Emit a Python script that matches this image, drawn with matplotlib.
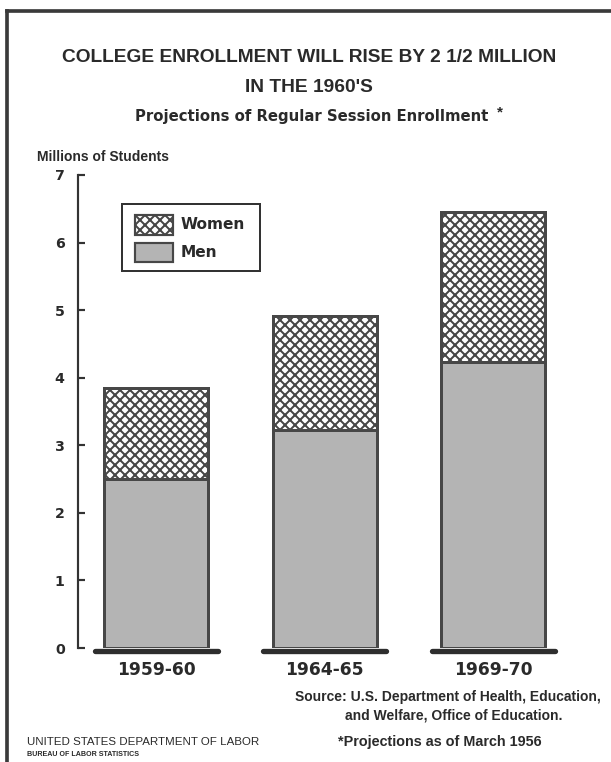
import matplotlib

matplotlib.use("Agg")
import matplotlib.pyplot as plt
from matplotlib.lines import Line2D
from matplotlib.patches import Rectangle

# enrollment, millions of students
years = ["1959-60", "1964-65", "1969-70"]
men = [2.5, 3.22, 4.23]
women = [1.35, 1.7, 2.22]
y_ticks = [0, 1, 2, 3, 4, 5, 6, 7]

W, H, DPI = 611, 762, 120
EDGE = "#474747"
INK = "#2a2a2a"
MEN_FILL = "#b4b4b4"
HATCH = "xxxx"
FONT = "Liberation Sans"
WIDE = "DejaVu Sans"

plt.rcParams["font.family"] = [FONT, "DejaVu Sans"]
plt.rcParams["hatch.linewidth"] = 1.2
plt.rcParams["hatch.color"] = EDGE


def fx(px):
    return px / W


def fy(py):
    return 1 - py / H


fig = plt.figure(figsize=(W / DPI, H / DPI), dpi=DPI)
fig.patch.set_facecolor("white")

# page frame (left and top rules)
fig.add_artist(Line2D([fx(7), fx(7)], [fy(11), 0], color="#3a3a3a", lw=2.2))
fig.add_artist(Line2D([fx(7), 1], [fy(11), fy(11)], color="#3a3a3a", lw=2.2))

# axes: y=0 at 648px, y=7 at 175px; spine at 78px
spacing = 168.5
c0 = 156
x_left = (78 - c0) / spacing
x_right = (605 - c0) / spacing
ax = fig.add_axes([fx(78), fy(648), fx(605) - fx(78), fy(175) - fy(648)])
ax.set_xlim(x_left, x_right)
ax.set_ylim(0, 7)

xs = list(range(len(years)))
bw = 104 / spacing
ax.bar(xs, men, width=bw, color=MEN_FILL, edgecolor=EDGE, linewidth=1.8, zorder=2)
ax.bar(xs, women, bottom=men, width=bw, color="white", edgecolor=EDGE,
       hatch=HATCH, linewidth=1.8, zorder=2)

# heavy base rule under each bar
half = 61.5 / spacing
for x in xs:
    ax.plot([x - half, x + half], [-0.04, -0.04], color="#2e2e2e", lw=3.2,
            solid_capstyle="round", clip_on=False, zorder=3)

for s in ["top", "right", "bottom"]:
    ax.spines[s].set_visible(False)
ax.spines["left"].set_color("#333333")
ax.spines["left"].set_linewidth(1.3)
ax.set_yticks(y_ticks)
ax.set_yticklabels([str(t) for t in y_ticks], fontweight="bold", fontsize=8.5,
                   color=INK, family=WIDE)
ax.tick_params(axis="y", direction="in", length=4, width=1.3, color="#333333",
               pad=8)
ax.set_xticks(xs)
ax.set_xticklabels(years, fontweight="bold", fontsize=10.3, color=INK, family=WIDE)
ax.tick_params(axis="x", length=0, pad=8)

# legend
fig.add_artist(Rectangle((fx(122), fy(271)), fx(260) - fx(122), fy(204) - fy(271),
                         transform=fig.transFigure, facecolor="white",
                         edgecolor="#333333", lw=1.2))
fig.add_artist(Rectangle((fx(135), fy(235)), fx(173) - fx(135), fy(215) - fy(235),
                         transform=fig.transFigure, facecolor="white",
                         edgecolor=EDGE, hatch=HATCH, lw=1.3))
fig.add_artist(Rectangle((fx(135), fy(262)), fx(173) - fx(135), fy(243) - fy(262),
                         transform=fig.transFigure, facecolor=MEN_FILL,
                         edgecolor=EDGE, lw=1.3))
fig.text(fx(181), fy(225), "Women", fontsize=9.2, fontweight="bold",
         va="center", color=INK, family=WIDE)
fig.text(fx(181), fy(252), "Men", fontsize=9.2, fontweight="bold",
         va="center", color=INK, family=WIDE)

# titles
fig.text(fx(309), fy(58), "COLLEGE ENROLLMENT WILL RISE BY 2 1/2 MILLION",
         ha="center", va="center", fontsize=11.5, fontweight="bold", color=INK)
fig.text(fx(309), fy(88), "IN THE 1960'S", ha="center", va="center",
         fontsize=11.5, fontweight="bold", color=INK)
fig.text(fx(312), fy(117), "Projections of Regular Session Enrollment",
         ha="center", va="center", fontsize=8.9, fontweight="bold", color=INK,
         family=WIDE)
fig.text(fx(497), fy(112), "*", ha="left", va="center", fontsize=9,
         fontweight="bold", color=INK)
fig.text(fx(37), fy(157), "Millions of Students", ha="left", va="center",
         fontsize=8.3, fontweight="bold", color=INK)

# footer
fig.text(fx(295), fy(697), "Source: U.S. Department of Health, Education,",
         ha="left", va="center", fontsize=8.3, fontweight="bold", color=INK)
fig.text(fx(345), fy(716), "and Welfare, Office of Education.",
         ha="left", va="center", fontsize=8.3, fontweight="bold", color=INK)
fig.text(fx(338), fy(742), "*Projections as of March 1956",
         ha="left", va="center", fontsize=8.6, fontweight="bold", color=INK)
fig.text(fx(27), fy(742), "UNITED STATES DEPARTMENT OF LABOR",
         ha="left", va="center", fontsize=6.9, color=INK)
fig.text(fx(27), fy(755), "BUREAU OF LABOR STATISTICS",
         ha="left", va="center", fontsize=4.3, fontweight="bold", color=INK)

fig.savefig("out.png", dpi=DPI, facecolor="white")
